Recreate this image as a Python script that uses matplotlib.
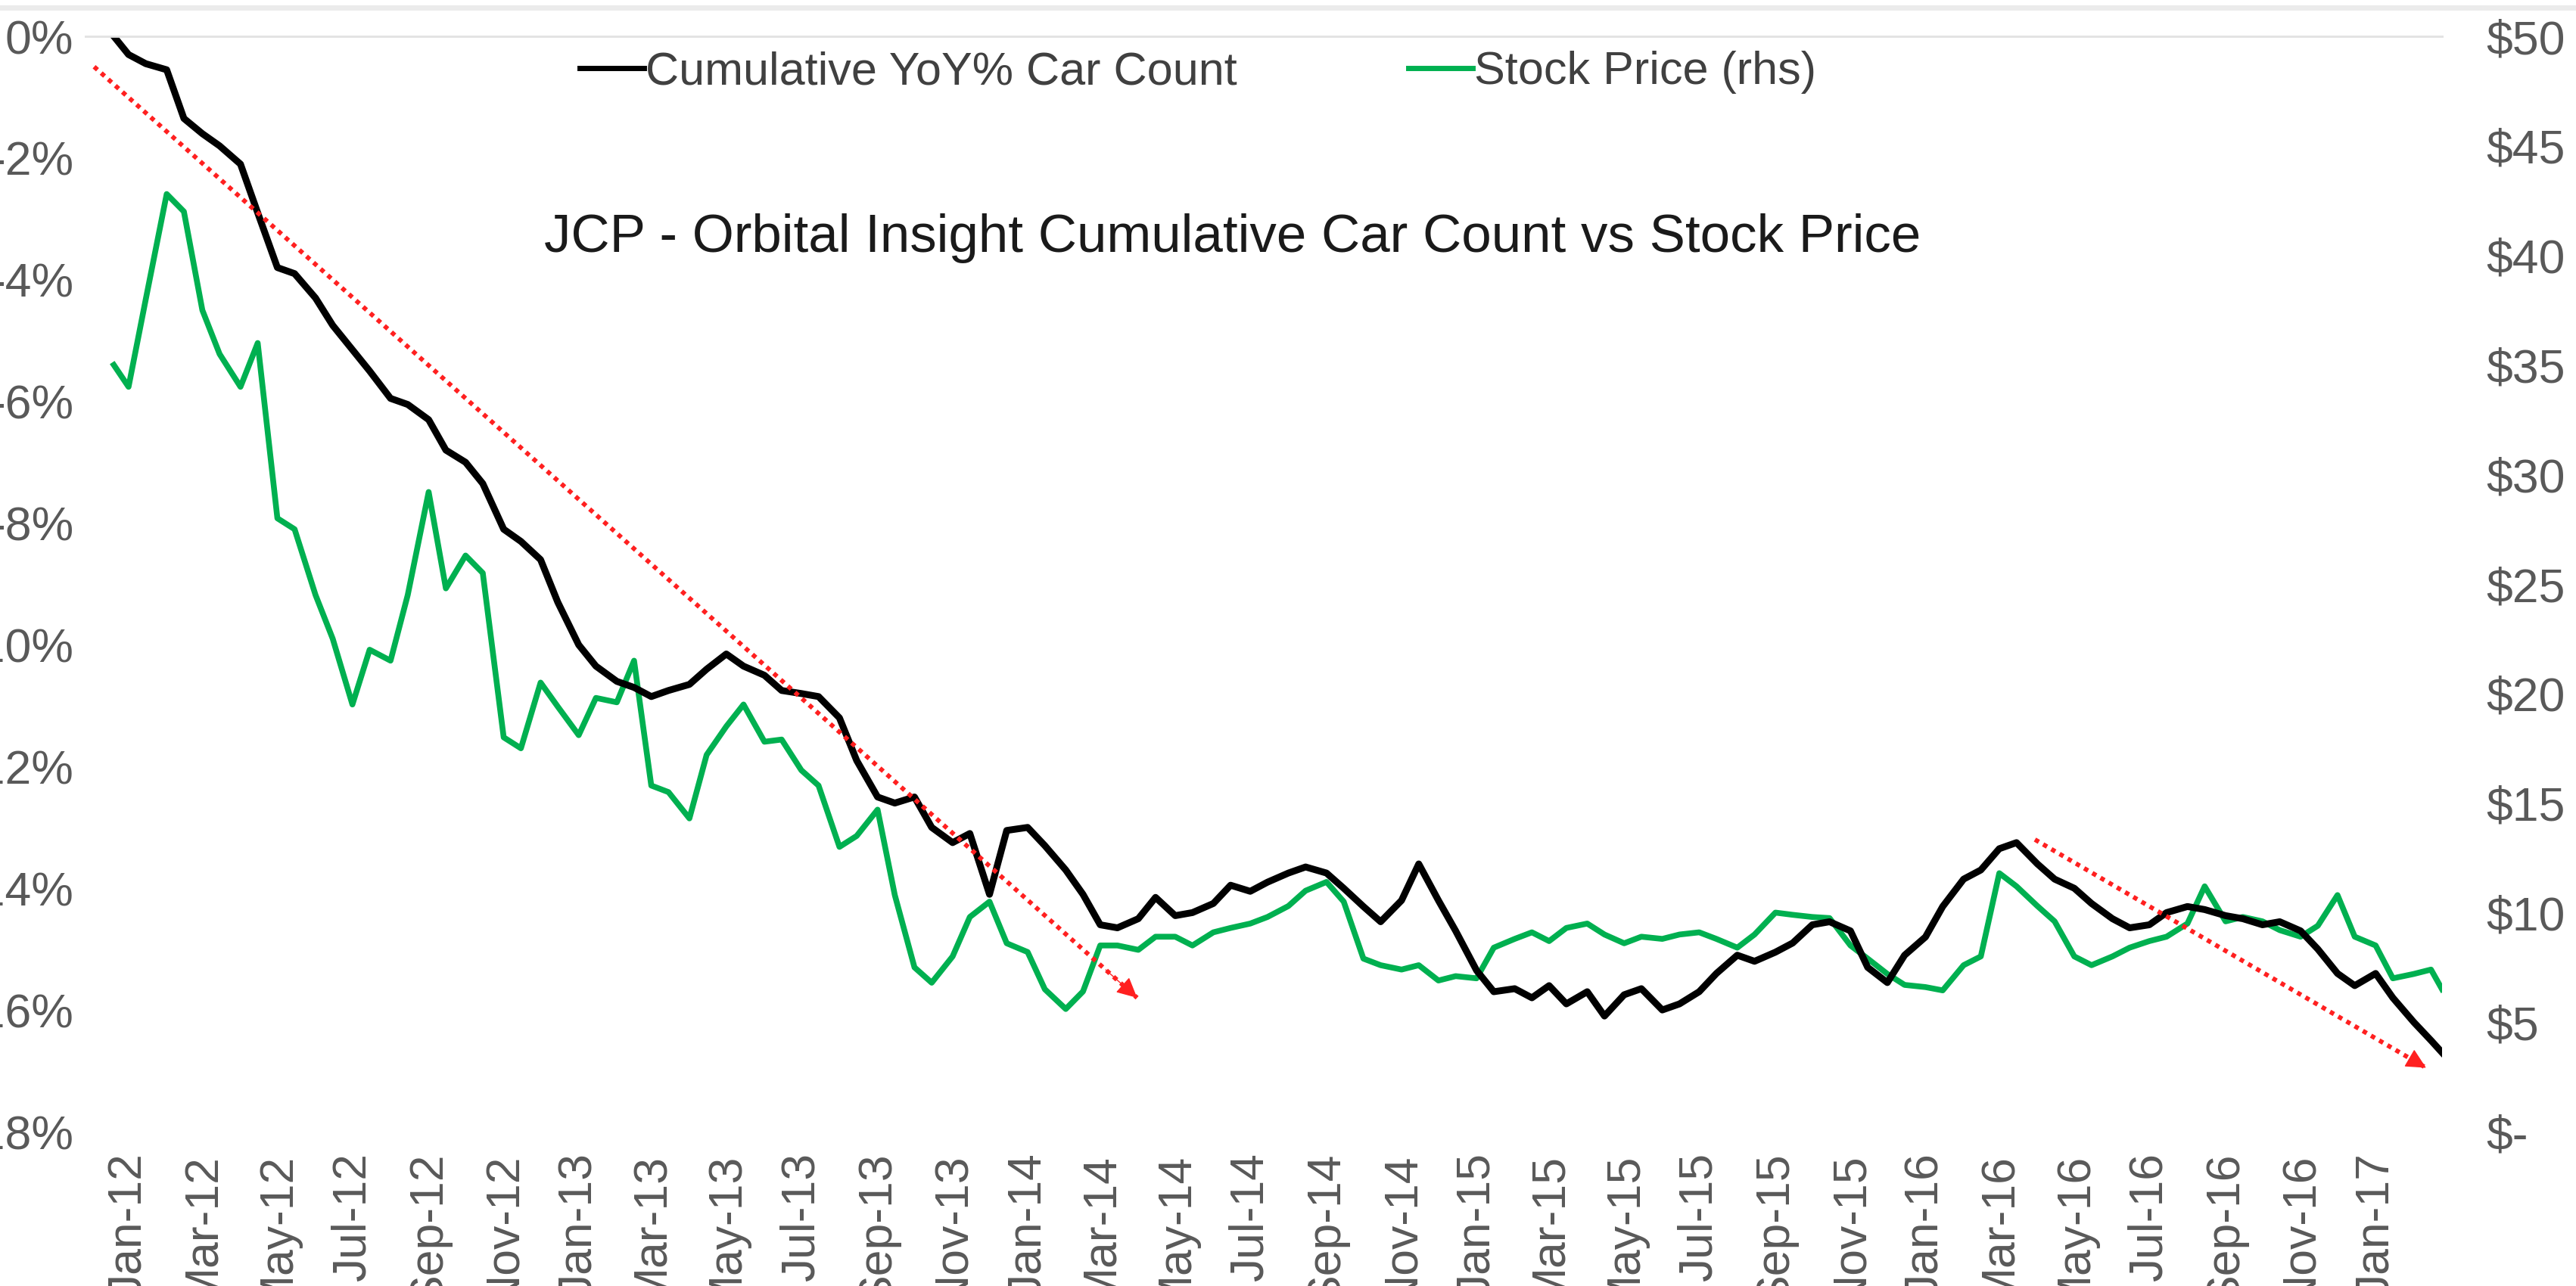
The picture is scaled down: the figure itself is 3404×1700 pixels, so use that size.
import numpy as np
import pandas as pd
import matplotlib
matplotlib.use("Agg")
import matplotlib.pyplot as plt
import matplotlib.ticker as mticker
import matplotlib.dates as mdates
from matplotlib.lines import Line2D

plt.rcParams['font.family'] = ['Liberation Sans', 'DejaVu Sans']

# semi-monthly readings (1st / 15th of each month), plus first and last day
first_day = '2011-12-20'
last_day = '2017-02-24'
grid_start = '2012-01-01'

car_count = [  # cumulative YoY% car count, %
    -0.3, -0.45, -0.55, -1.35, -1.6, -1.8, -2.1, -2.9, -3.8, -3.9,
    -4.3, -4.75, -5.15, -5.5, -5.95, -6.05, -6.3, -6.8, -7.0, -7.35,
    -8.1, -8.3, -8.6, -9.3, -10.0, -10.35, -10.6, -10.7, -10.85, -10.75,
    -10.65, -10.4, -10.15, -10.35, -10.5, -10.75, -10.8, -10.85, -11.2, -11.9,
    -12.5, -12.6, -12.5, -13.0, -13.25, -13.1, -14.1, -13.05, -13.0, -13.3,
    -13.7, -14.1, -14.6, -14.65, -14.5, -14.15, -14.45, -14.4, -14.25, -13.95,
    -14.05, -13.9, -13.75, -13.65, -13.75, -14.0, -14.3, -14.55, -14.2, -13.6,
    -14.2, -14.7, -15.35, -15.7, -15.65, -15.8, -15.6, -15.9, -15.7, -16.1,
    -15.75, -15.65, -16.0, -15.9, -15.7, -15.4, -15.1, -15.2, -15.05, -14.9,
    -14.6, -14.55, -14.7, -15.3, -15.55, -15.1, -14.8, -14.3, -13.85, -13.7,
    -13.35, -13.25, -13.6, -13.85, -14.0, -14.25, -14.5, -14.65, -14.6, -14.4,
    -14.3, -14.35, -14.45, -14.5, -14.6, -14.55, -14.7, -15.0, -15.4, -15.6,
    -15.4, -15.8, -16.2, -16.5,
]
car_first, car_last = 0.0, -16.7

stock_price = [  # JCP close, $
    34.0, 38.0, 42.8, 42.0, 37.5, 35.5, 34.0, 36.0, 28.0, 27.5,
    24.5, 22.5, 19.5, 22.0, 21.5, 24.5, 29.2, 24.8, 26.3, 25.5,
    18.0, 17.5, 20.5, 19.4, 18.1, 19.8, 19.6, 21.5, 15.8, 15.5,
    14.3, 17.2, 18.5, 19.5, 17.8, 17.9, 16.5, 15.8, 13.0, 13.5,
    14.7, 10.8, 7.5, 6.8, 8.0, 9.8, 10.5, 8.6, 8.2, 6.5,
    5.6, 6.4, 8.5, 8.5, 8.3, 8.9, 8.9, 8.5, 9.1, 9.3,
    9.5, 9.8, 10.3, 11.0, 11.4, 10.5, 7.9, 7.6, 7.4, 7.6,
    6.9, 7.1, 7.0, 8.4, 8.8, 9.1, 8.7, 9.3, 9.5, 9.0,
    8.6, 8.9, 8.8, 9.0, 9.1, 8.8, 8.4, 9.0, 10.0, 9.9,
    9.8, 9.75, 8.5, 7.9, 7.2, 6.7, 6.6, 6.45, 7.6, 8.0,
    11.8, 11.2, 10.3, 9.6, 8.0, 7.6, 8.0, 8.4, 8.7, 8.9,
    9.5, 11.2, 9.6, 9.8, 9.6, 9.2, 8.9, 9.4, 10.8, 8.9,
    8.5, 7.0, 7.2, 7.4,
]
stock_first, stock_last = 35.0, 6.5

# dotted red trend arrows (start, end)
trend1_dates = ['2011-12-04', '2014-03-31']
trend1_vals = [-0.5, -15.8]
trend2_dates = ['2016-03-30', '2017-02-11']
trend2_vals = [-13.2, -16.95]

title = 'JCP - Orbital Insight Cumulative Car Count vs Stock Price'
label_car = 'Cumulative YoY% Car Count'
label_stock = 'Stock Price (rhs)'

grid = pd.date_range(grid_start, periods=len(car_count), freq='SMS')
dates = [pd.Timestamp(first_day)] + list(grid) + [pd.Timestamp(last_day)]
car = [car_first] + car_count + [car_last]
stock = [stock_first] + stock_price + [stock_last]

green = '#00B050'
red = '#FF2020'
tick_col = '#595959'

fig = plt.figure(figsize=(34.04, 17.0), dpi=100)
ax = fig.add_axes([113 / 3404, 1 - 1496 / 1700, (3227 - 113) / 3404, (1496 - 48) / 1700])
ax2 = ax.twinx()

ax2.plot(dates, stock, color=green, lw=5.5, solid_joinstyle='round')
ax.plot(dates, car, color='black', lw=6.5, solid_joinstyle='round')
ax.set_zorder(ax2.get_zorder() + 1)
ax.patch.set_visible(False)

# trend arrows: dotted shaft + solid head
for d, v in ((trend1_dates, trend1_vals), (trend2_dates, trend2_vals)):
    x0, x1 = mdates.date2num(pd.Timestamp(d[0])), mdates.date2num(pd.Timestamp(d[1]))
    ax.plot([x0, x1], v, color=red, lw=4.3, linestyle=(0, (1, 1.1)), zorder=5)
    xh = x0 + 0.97 * (x1 - x0)
    yh = v[0] + 0.97 * (v[1] - v[0])
    ax.annotate('', xy=(x1, v[1]), xytext=(xh, yh),
                arrowprops=dict(arrowstyle='-|>', color=red, lw=1,
                                mutation_scale=42, shrinkA=0, shrinkB=0),
                zorder=5)

ax.set_xlim(pd.Timestamp('2011-11-27'), pd.Timestamp('2017-02-24'))
ax.set_ylim(-18, 0)
ax2.set_ylim(0, 50)
ax.set_yticks(np.arange(-18, 0.1, 2))
ax2.set_yticks(np.arange(0, 50.1, 5))
ax.yaxis.set_major_formatter(mticker.FuncFormatter(lambda v, p: f'{v:.0f}%'))
ax2.yaxis.set_major_formatter(mticker.FuncFormatter(lambda v, p: '$-' if v == 0 else f'${v:.0f}'))

xt = pd.date_range('2012-01-01', '2017-01-01', freq='2MS')
ax.set_xticks(xt)
ax.xaxis.set_major_formatter(mdates.DateFormatter('%b-%y'))
ax.tick_params(axis='x', length=0, pad=20, labelsize=45, labelcolor=tick_col, labelrotation=90)
ax.tick_params(axis='y', length=0, pad=11.5, labelsize=45, labelcolor=tick_col)
ax2.tick_params(axis='y', length=0, pad=42, labelsize=45, labelcolor=tick_col)

for a in (ax, ax2):
    for s in ('left', 'right', 'bottom'):
        a.spines[s].set_visible(False)
    a.spines['top'].set_color('#e3e3e3')
    a.spines['top'].set_linewidth(2)

fig.text(1629 / 3404, 1 - 315 / 1700, title, ha='center', va='center',
         fontsize=51, color='#1a1a1a')

handles = [Line2D([], [], color='black', lw=5), Line2D([], [], color=green, lw=5)]
fig.legend(handles, [label_car, label_stock], loc='center', ncol=2, frameon=False,
           bbox_to_anchor=(1583 / 3404, 1 - 96 / 1700), fontsize=44,
           handlelength=1.4, handletextpad=0.03, columnspacing=3.7, labelcolor='#404040')

fig.add_artist(Line2D([0, 1], [1 - 10 / 1700, 1 - 10 / 1700], color='#ebebeb', lw=5,
                      transform=fig.transFigure))

fig.savefig('out.png', dpi=100)
